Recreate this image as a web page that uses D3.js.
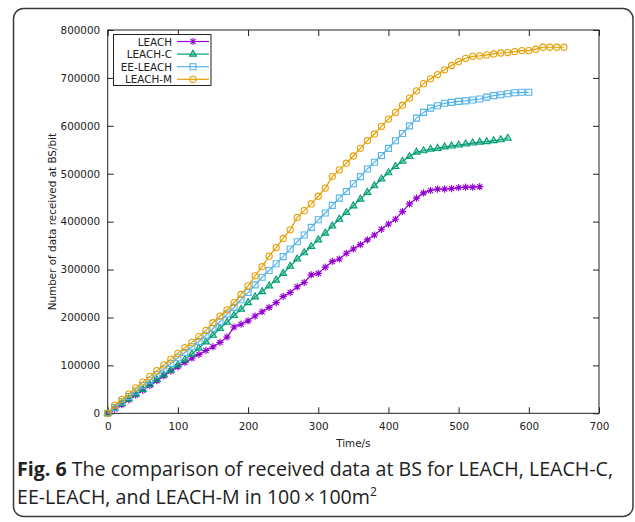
<!DOCTYPE html>
<html>
<head>
<meta charset="utf-8">
<script src="https://cdn.jsdelivr.net/npm/d3@7"></script>
<style>
  body { margin: 0; background: #fff; }
  svg { display: block; }
</style>
</head>
<body>
<svg id="chart" width="635" height="522"></svg>
<script>
// Sampling instants (s)
const times = [0,10,20,30,40,50,60,70,80,90,100,110,120,130,140,150,160,170,180,190,
  200,210,220,230,240,250,260,270,280,290,300,310,320,330,340,350,360,370,380,390,
  400,410,420,430,440,450,460,470,480,490,500,510,520,530,540,550,560,570,580,590,
  600,610,620,630,640,650];

// Cumulative data received at the base station (bit)
const leach = [0,9000,18000,28000,38000,48000,58000,68000,78000,88000,97000,106000,115000,
  123000,131000,139000,148000,159000,180000,186000,193000,203000,212000,221000,231000,
  244000,252000,264000,273000,289000,292000,305000,317000,322000,334000,343000,352000,
  362000,372000,384000,395000,405000,421000,437000,449000,460000,465000,468000,468000,
  469000,471000,472000,472000,473000];

const leachC = [0,10000,20000,30000,40000,50000,60000,70000,80000,90000,101000,112000,
  124000,136000,149000,163000,177000,190000,204000,217000,231000,243000,254000,266000,
  278000,292000,307000,322000,335000,348000,362000,376000,391000,405000,419000,433000,
  447000,461000,475000,489000,502000,515000,526000,536000,545000,548000,551000,553000,
  556000,558000,560000,562000,564000,566000,567000,569000,571000,574000];

const eeLeach = [0,12000,24000,35000,46000,58000,69000,81000,92000,104000,116000,127000,
  139000,150000,163000,177000,191000,207000,221000,237000,252000,268000,284000,298000,
  312000,327000,343000,358000,372000,388000,404000,418000,434000,449000,463000,479000,
  494000,510000,524000,538000,553000,569000,584000,600000,616000,628000,637000,642000,
  647000,649000,651000,652000,654000,656000,660000,663000,665000,667000,669000,670000,
  670000];

const leachM = [0,17000,29000,40000,53000,65000,77000,89000,101000,113000,125000,137000,
  148000,160000,173000,189000,203000,216000,231000,248000,266000,287000,306000,328000,
  346000,365000,383000,409000,423000,437000,453000,470000,494000,508000,522000,537000,
  553000,569000,583000,599000,614000,628000,643000,658000,673000,688000,698000,707000,
  717000,726000,734000,741000,745000,746000,748000,750000,752000,753000,755000,757000,
  757000,760000,764000,764000,764000,764000];

const seriesNames = ["LEACH", "LEACH-C", "EE-LEACH", "LEACH-M"];
const seriesValues = [leach, leachC, eeLeach, leachM];

const xTicks = [0,100,200,300,400,500,600,700];
const yTicks = [0,100000,200000,300000,400000,500000,600000,700000,800000];

const xTitle = "Time/s";
const yTitle = "Number of data received at BS/bit";

// Presentation
const colors = ["#9400d3", "#009e73", "#56b4e9", "#e69f00"];
const markerKinds = ["star", "triangle", "square", "circle"];
const tickFont = "DejaVu Sans, sans-serif";
const tickSize = "10.4px";

const svg = d3.select("#chart");

// Rounded figure frame
svg.append("rect")
  .attr("x", 13.5).attr("y", 8.5)
  .attr("width", 619.5).attr("height", 508)
  .attr("rx", 10).attr("ry", 10)
  .attr("fill", "none")
  .attr("stroke", "#3a3a3a")
  .attr("stroke-width", 1.5);

const plot = { left: 107.7, right: 599, top: 30, bottom: 413.3 };

const x = d3.scaleLinear().domain([0, 700]).range([plot.left, plot.right]);
const y = d3.scaleLinear().domain([0, 800000]).range([plot.bottom, plot.top]);

function styleAxis(g, withText) {
  g.select(".domain").remove();
  g.selectAll(".tick line").attr("stroke", "#222").attr("stroke-width", 1);
  g.selectAll(".tick text")
    .attr("fill", "#222")
    .style("font-family", tickFont)
    .style("font-size", tickSize);
  if (!withText) g.selectAll(".tick text").remove();
}

svg.append("g")
  .attr("transform", `translate(0,${plot.bottom})`)
  .call(d3.axisBottom(x).tickValues(xTicks).tickSizeInner(-6).tickSizeOuter(0).tickPadding(9))
  .call(g => styleAxis(g, true));

svg.append("g")
  .attr("transform", `translate(0,${plot.top})`)
  .call(d3.axisTop(x).tickValues(xTicks).tickSizeInner(-6).tickSizeOuter(0))
  .call(g => styleAxis(g, false));

svg.append("g")
  .attr("transform", `translate(${plot.left},0)`)
  .call(d3.axisLeft(y).tickValues(yTicks).tickSizeInner(-6).tickSizeOuter(0)
    .tickPadding(7.5).tickFormat(d3.format("d")))
  .call(g => styleAxis(g, true));

svg.append("g")
  .attr("transform", `translate(${plot.right},0)`)
  .call(d3.axisRight(y).tickValues(yTicks).tickSizeInner(-6).tickSizeOuter(0))
  .call(g => styleAxis(g, false));

// Plot border
svg.append("rect")
  .attr("x", plot.left).attr("y", plot.top)
  .attr("width", plot.right - plot.left).attr("height", plot.bottom - plot.top)
  .attr("fill", "none").attr("stroke", "#222").attr("stroke-width", 1);

// Axis titles
svg.append("text")
  .attr("x", (plot.left + plot.right) / 2).attr("y", 447)
  .attr("text-anchor", "middle")
  .style("font-family", tickFont).style("font-size", tickSize).attr("fill", "#222")
  .text(xTitle);

svg.append("text")
  .attr("transform", `translate(56,${(plot.top + plot.bottom) / 2}) rotate(-90)`)
  .attr("text-anchor", "middle")
  .style("font-family", tickFont).style("font-size", tickSize).attr("fill", "#222")
  .text(yTitle);

// Marker shapes
function markerPath(kind) {
  if (kind === "circle") return d3.symbol().type(d3.symbolCircle).size(30)();
  if (kind === "square") return d3.symbol().type(d3.symbolSquare).size(36)();
  if (kind === "triangle") return d3.symbol().type(d3.symbolTriangle2).size(34)();
  const r = 3.6, q = r * 0.72;
  return `M${-r},0L${r},0M0,${-r}L0,${r}M${-q},${-q}L${q},${q}M${-q},${q}L${q},${-q}`;
}

function drawMarker(g, kind, color, cx, cy) {
  g.append("path")
    .attr("d", markerPath(kind))
    .attr("transform", `translate(${cx},${cy})`)
    .attr("fill", kind === "triangle" ? color : "none")
    .attr("fill-opacity", kind === "triangle" ? 0.35 : 1)
    .attr("stroke", color)
    .attr("stroke-width", 1.1);
}

const line = d3.line().x(d => x(d[0])).y(d => y(d[1]));

seriesValues.forEach((vals, i) => {
  const pts = vals.map((v, k) => [times[k], v]);
  const g = svg.append("g");
  g.append("path")
    .datum(pts)
    .attr("d", line)
    .attr("fill", "none")
    .attr("stroke", colors[i])
    .attr("stroke-width", 1.2);
  pts.forEach(p => drawMarker(g, markerKinds[i], colors[i], x(p[0]), y(p[1])));
});

// Key
const key = svg.append("g");
key.append("rect")
  .attr("x", 113.5).attr("y", 34.5).attr("width", 97.5).attr("height", 51)
  .attr("fill", "#fff").attr("stroke", "#222").attr("stroke-width", 1);
seriesNames.forEach((name, i) => {
  const cy = 41.5 + i * 12.6;
  key.append("text")
    .attr("x", 172).attr("y", cy + 4)
    .attr("text-anchor", "end")
    .style("font-family", tickFont).style("font-size", tickSize).attr("fill", "#222")
    .text(name);
  key.append("line")
    .attr("x1", 177).attr("x2", 209).attr("y1", cy).attr("y2", cy)
    .attr("stroke", colors[i]).attr("stroke-width", 1.2);
  drawMarker(key, markerKinds[i], colors[i], 193, cy);
});

// Caption
const cap = svg.append("text")
  .style("font-family", "'Open Sans', sans-serif")
  .style("font-size", "19.6px")
  .attr("fill", "#222");
const l1 = cap.append("tspan").attr("x", 17).attr("y", 476);
l1.append("tspan").attr("font-weight", "bold").text("Fig. 6");
l1.append("tspan").text(" The comparison of received data at BS for LEACH, LEACH-C,");
const l2 = cap.append("tspan").attr("x", 17).attr("y", 504);
l2.append("tspan").text("EE-LEACH, and LEACH-M in 100\u2009\u00d7\u2009100m");
l2.append("tspan").attr("dy", -8).style("font-size", "12px").text("2");
</script>
</body>
</html>
